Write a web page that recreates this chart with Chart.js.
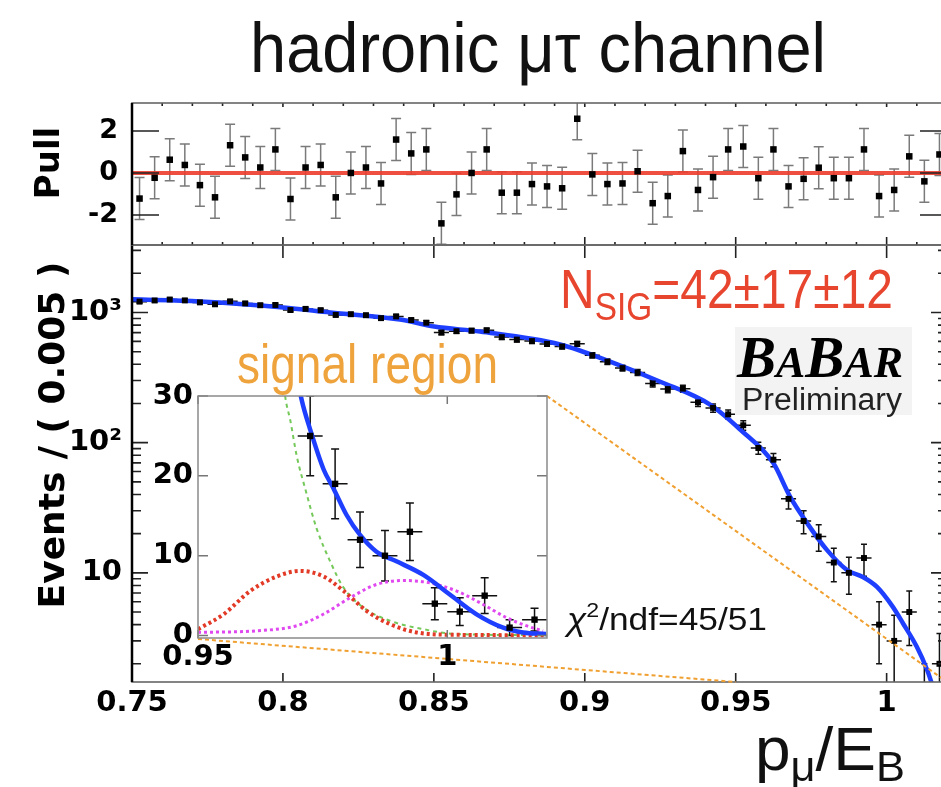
<!DOCTYPE html>
<html lang="en">
<head>
<meta charset="utf-8">
<title>hadronic μτ channel</title>
<script src="https://cdn.jsdelivr.net/npm/chart.js@4.4.1/dist/chart.umd.min.js"></script>
<style>
  html, body { margin: 0; padding: 0; background: #fff; overflow: hidden; }
  #wrap { position: relative; width: 941px; height: 787px; overflow: hidden; background: #fff; }
  #wrap canvas { position: absolute; }
  .txt { position: absolute; white-space: nowrap; line-height: 1; font-family: "Liberation Sans", Arial, sans-serif; transform-origin: 0 0; color: #111; }
  .rot { position: absolute; white-space: nowrap; line-height: 1; font-family: "DejaVu Sans", sans-serif; font-weight: bold; color: #000; transform: translate(-50%, -50%) rotate(-90deg); }
  .sub { position: relative; }
  #babarBox { position: absolute; left: 735px; top: 327px; width: 177px; height: 88px; background: #f3f3f3; }
  #babar { font-family: "Liberation Serif", "Times New Roman", serif; font-weight: bold; font-style: italic; color: #000; }
</style>
</head>
<body>
<div id="wrap">
  <canvas id="mainCanvas" width="960" height="787" style="left:0;top:0"></canvas>
  <canvas id="pullCanvas" width="960" height="260" style="left:0;top:0"></canvas>
  <canvas id="insetCanvas" width="420" height="310" style="left:140px;top:380px"></canvas>

  <div class="txt" id="title">hadronic μτ channel</div>
  <div class="rot" style="left:47px;top:163px;font-size:34px">Pull</div>
  <div class="rot" style="left:52px;top:435px;font-size:36px">Events / ( 0.005 )</div>
  <div class="txt" id="nsig" style="color:#e8452f">N<span class="sub" style="font-size:39px;top:12px">SIG</span>=42±17±12</div>
  <div class="txt" id="sigRegion" style="color:#efa33c">signal region</div>
  <div id="babarBox"></div>
  <div class="txt" id="babar"><span style="font-size:60px">B</span><span style="font-size:45px">A</span><span style="font-size:60px">B</span><span style="font-size:45px">AR</span></div>
  <div class="txt" id="prelim" style="color:#222">Preliminary</div>
  <div class="txt" id="chi2"><i>χ</i><span class="sub" style="font-size:21px;top:-13px">2</span>/ndf=45/51</div>
  <div class="txt" id="xTitle">p<span class="sub" style="font-size:42px;top:11px">μ</span>/E<span class="sub" style="font-size:42px;top:11px">B</span></div>
</div>

<script>
const binCenters = [
  0.7525, 0.7575, 0.7625, 0.7675, 0.7725, 0.7775, 0.7825, 0.7875, 0.7925, 0.7975,
  0.8025, 0.8075, 0.8125, 0.8175, 0.8225, 0.8275, 0.8325, 0.8375, 0.8425, 0.8475,
  0.8525, 0.8575, 0.8625, 0.8675, 0.8725, 0.8775, 0.8825, 0.8875, 0.8925, 0.8975,
  0.9025, 0.9075, 0.9125, 0.9175, 0.9225, 0.9275, 0.9325, 0.9375, 0.9425, 0.9475,
  0.9525, 0.9575, 0.9625, 0.9675, 0.9725, 0.9775, 0.9825, 0.9875, 0.9925, 0.9975,
  1.0025, 1.0075, 1.0125, 1.0175
];
const eventCounts = [
  1212, 1237, 1258, 1239, 1196, 1156, 1218, 1175, 1137, 1142,
  1044, 1066, 1042, 958, 970, 953, 905, 933, 875, 835,
  702, 718, 725, 730, 647, 619, 603, 574, 548, 575,
  469, 419, 374, 346, 285, 258, 260, 204, 185, 165,
  136, 91, 74, 37, 25, 19, 12, 10, 13, 4,
  3, 5, 1, 2
];
const pullValues = [
  -1.22, -0.23, 0.63, 0.38, -0.58, -1.16, 1.32, 0.74, 0.26, 1.12,
  -1.24, 0.26, 0.38, -1.16, 0.0, 0.26, -0.5, 1.59, 0.93, 1.12,
  -2.4, -1.02, 0.0, 1.12, -0.94, -0.94, -0.53, -0.64, -0.73, 2.58,
  -0.07, -0.53, -0.5, 0.08, -1.44, -1.1, 1.04, -0.81, -0.2, 1.12,
  1.26, -0.25, 1.12, -0.64, -0.28, 0.25, -0.25, -0.25, 1.12, -1.1,
  -0.81, 0.79, -0.4, 0.88
];

// Ajuste total (panel principal, escala log)
const fitX = [0.75, 0.7726, 0.8001, 0.8157, 0.8388, 0.8501, 0.8653, 0.8918, 0.9084, 0.925, 0.9415, 0.9515, 0.9624, 0.968, 0.9736, 0.9802, 0.9869, 0.9921, 0.9968, 1.002, 1.0054, 1.01, 1.0134, 1.016, 1.02];
const fitY = [1262, 1216, 1093, 1000, 883, 780, 714, 568, 420, 294, 196, 126, 70, 38.5, 24.2, 15.0, 10.5, 9.3, 7.8, 5.5, 4.1, 2.7, 1.8, 1.2, 0.7];

// Recuadro de la region de senal (escala lineal)
const insetFitX = [0.968, 0.9708, 0.9725, 0.9752, 0.9772, 0.9798, 0.9825, 0.9858, 0.9898, 0.9952, 1.0005, 1.0058, 1.0112, 1.0152, 1.0198];
const insetFitY = [38.5, 29.5, 25.8, 20.8, 18.4, 15.1, 12.6, 10.5, 9.3, 7.6, 5.15, 2.7, 1.0, 0.4, 0.2];
const bkgX = [0.9665, 0.9675, 0.9685, 0.9698, 0.9715, 0.9738, 0.9765, 0.9792, 0.9832, 0.9885, 0.9952, 1.0018, 1.02];
const bkgY = [36, 29.9, 27, 22.5, 18.4, 13.4, 9.3, 6.0, 3.5, 1.86, 0.8, 0.2, 0.05];
const sigX = [0.95, 0.9552, 0.9605, 0.9658, 0.9705, 0.9752, 0.9792, 0.9838, 0.9885, 0.9938, 1.0018, 1.02];
const sigY = [0.8, 2.7, 5.6, 7.4, 8.1, 7.4, 5.6, 3.1, 1.44, 0.4, 0.1, 0.05];
const peakX = [0.95, 0.9618, 0.9698, 0.9752, 0.9805, 0.9858, 0.9912, 0.9965, 1.0018, 1.0072, 1.0118, 1.0158, 1.0192];
const peakY = [0.4, 0.6, 1.24, 2.7, 4.74, 6.4, 6.9, 6.6, 5.6, 3.9, 2.27, 1.24, 0.6];

// Etiquetas de ejes
const xTickValues = [0.75, 0.8, 0.85, 0.9, 0.95, 1.0];
const xTickLabels = ["0.75", "0.8", "0.85", "0.9", "0.95", "1"];
const yTickValues = [10, 100, 1000];
const yTickLabels = ["10", "10²", "10³"];
const pullTickValues = [-2, 0, 2];
const pullTickLabels = ["-2", "0", "2"];
const insetXTickValues = [0.95, 1.0];
const insetXTickLabels = ["0.95", "1"];
const insetYTickValues = [0, 10, 20, 30];
const insetYTickLabels = ["0", "10", "20", "30"];

const blue = "#1e3fff";
const tickFont = { family: "DejaVu Sans", weight: "bold", size: 29 };

const toPoints = (xs, ys) => xs.map((x, i) => ({ x, y: ys[i] }));
const labelFor = (values, labels) => (value) => {
  const i = values.findIndex((v) => Math.abs(v - value) < 1e-9);
  return i >= 0 ? labels[i] : "";
};
const fixSize = (prop, size) => (scale) => {
  scale[prop] = size;
  scale.paddingTop = scale.paddingBottom = scale.paddingLeft = scale.paddingRight = 0;
};
const setTicks = (values) => (scale) => {
  scale.ticks = values.map((value) => ({ value }));
};

const eventErrors = eventCounts.map((n) => Math.sqrt(n));
const pullErrors = pullValues.map(() => 1);

// Barras de error (vertical con topes y horizontal de anchura de bin)
Chart.register({
  id: "errorBars",
  beforeDatasetsDraw(chart) {
    const { ctx, chartArea: a } = chart;
    const xs = chart.scales.x;
    const ys = chart.scales.y;
    ctx.save();
    ctx.beginPath();
    ctx.rect(a.left, a.top, a.right - a.left, a.bottom - a.top);
    ctx.clip();
    chart.data.datasets.forEach((ds) => {
      if (!ds.yErr) return;
      ctx.strokeStyle = ds.barColor;
      ctx.lineWidth = ds.barWidth;
      ctx.beginPath();
      ds.data.forEach((p, j) => {
        let low = p.y - ds.yErr[j];
        if (ys.type === "logarithmic") low = Math.max(low, ys.min / 10);
        const px = xs.getPixelForValue(p.x);
        const py = ys.getPixelForValue(p.y);
        const lo = ys.getPixelForValue(low);
        const hi = ys.getPixelForValue(p.y + ds.yErr[j]);
        ctx.moveTo(px, lo);
        ctx.lineTo(px, hi);
        if (ds.cap) {
          ctx.moveTo(px - ds.cap, lo); ctx.lineTo(px + ds.cap, lo);
          ctx.moveTo(px - ds.cap, hi); ctx.lineTo(px + ds.cap, hi);
        }
        if (ds.xHalf) {
          ctx.moveTo(xs.getPixelForValue(p.x - ds.xHalf), py);
          ctx.lineTo(xs.getPixelForValue(p.x + ds.xHalf), py);
        }
      });
      ctx.stroke();
    });
    ctx.restore();
  }
});

// Marco estilo ROOT: ticks hacia dentro en los cuatro lados
const rootFrame = (cfg) => ({
  id: "rootFrame",
  beforeDraw(chart) {
    if (!cfg.fill) return;
    const { ctx, chartArea: a } = chart;
    ctx.save();
    ctx.fillStyle = cfg.fill;
    ctx.fillRect(a.left, a.top, a.right - a.left, a.bottom - a.top);
    ctx.restore();
  },
  afterDraw(chart) {
    const { ctx, chartArea: a } = chart;
    const xs = chart.scales.x;
    const ys = chart.scales.y;
    ctx.save();
    ctx.strokeStyle = cfg.tickColor;
    ctx.lineWidth = cfg.tickWidth;
    ctx.beginPath();
    cfg.xTicks.forEach(([v, top, bottom]) => {
      const px = xs.getPixelForValue(v);
      if (px < a.left - 1 || px > a.right + 1) return;
      if (top) { ctx.moveTo(px, a.top); ctx.lineTo(px, a.top + top); }
      if (bottom) { ctx.moveTo(px, a.bottom); ctx.lineTo(px, a.bottom - bottom); }
    });
    cfg.yTicks.forEach(([v, len]) => {
      const py = ys.getPixelForValue(v);
      if (py < a.top - 1 || py > a.bottom + 1) return;
      ctx.moveTo(a.left, py); ctx.lineTo(a.left + len, py);
      ctx.moveTo(a.right, py); ctx.lineTo(a.right - len, py);
    });
    ctx.stroke();
    ctx.strokeStyle = cfg.frameColor;
    ctx.lineWidth = cfg.frameWidth;
    ctx.strokeRect(a.left, a.top, a.right - a.left, a.bottom - a.top);
    if (cfg.axisWidth) {
      ctx.strokeStyle = "#000";
      ctx.lineWidth = cfg.axisWidth;
      ctx.beginPath();
      ctx.moveTo(a.left, a.top);
      ctx.lineTo(a.left, a.bottom);
      ctx.stroke();
    }
    if (cfg.extra) cfg.extra(chart);
    ctx.restore();
  }
});

// Ticks menores cada 0.01 en x, mayores cada 0.05
const xGrid = [];
for (let i = 0; i <= 27; i++) {
  const v = Math.round((0.75 + i * 0.01) * 100) / 100;
  xGrid.push({ v, major: xTickValues.some((t) => Math.abs(t - v) < 1e-9) });
}
const logTicks = [];
[1, 10, 100, 1000].forEach((d) => {
  for (let m = 1; m <= 9; m++) {
    const v = d * m;
    if (v >= 1.45 && v <= 3300) logTicks.push(v);
  }
});

const baseOptions = {
  responsive: false,
  animation: false,
  devicePixelRatio: 1,
  events: [],
  plugins: { legend: { display: false }, tooltip: { enabled: false } }
};
const tickStyle = (values, labels, padding) => ({
  font: tickFont,
  color: "#000",
  padding,
  autoSkip: false,
  maxRotation: 0,
  minRotation: 0,
  callback: labelFor(values, labels)
});
const hiddenGrid = { display: false, drawTicks: false };

// Recuadro ampliado 0.95 - 1.02
const INSET_LEFT = 140;
const INSET_TOP = 380;
const insetChart = new Chart(document.getElementById("insetCanvas"), {
  type: "scatter",
  data: {
    datasets: [
      { data: toPoints(binCenters, eventCounts), yErr: eventErrors, xHalf: 0.0025, cap: 4,
        barColor: "#111", barWidth: 1.5, pointStyle: "rect", pointRadius: 4.5,
        backgroundColor: "#000", borderWidth: 0, clip: 0, order: 0 },
      { data: toPoints(insetFitX, insetFitY), showLine: true, borderColor: blue, borderWidth: 4.5,
        pointRadius: 0, cubicInterpolationMode: "monotone", clip: 0, order: 1 },
      { data: toPoints(sigX, sigY), showLine: true, borderColor: "#e23a26", borderWidth: 4,
        borderDash: [3, 3], pointRadius: 0, cubicInterpolationMode: "monotone", clip: 0, order: 2 },
      { data: toPoints(peakX, peakY), showLine: true, borderColor: "#e048f0", borderWidth: 3,
        borderDash: [3, 3], pointRadius: 0, cubicInterpolationMode: "monotone", clip: 0, order: 3 },
      { data: toPoints(bkgX, bkgY), showLine: true, borderColor: "#74c95a", borderWidth: 2,
        borderDash: [4, 4], pointRadius: 0, cubicInterpolationMode: "monotone", clip: 0, order: 4 }
    ]
  },
  options: {
    ...baseOptions,
    layout: { padding: { top: 16, right: 13, left: 0, bottom: 0 } },
    scales: {
      x: { type: "linear", min: 0.95, max: 1.02, grid: hiddenGrid, border: { display: false },
        afterBuildTicks: setTicks(insetXTickValues), afterFit: fixSize("height", 52),
        ticks: tickStyle(insetXTickValues, insetXTickLabels, 2) },
      y: { type: "linear", min: -0.3, max: 30, grid: hiddenGrid, border: { display: false },
        afterBuildTicks: setTicks(insetYTickValues), afterFit: fixSize("width", 58),
        ticks: tickStyle(insetYTickValues, insetYTickLabels, 5) }
    }
  },
  plugins: [rootFrame({
    fill: "#fff", tickColor: "#777", tickWidth: 1.5, frameColor: "#8a8a8a", frameWidth: 1.5,
    xTicks: insetXTickValues.map((v) => [v, 8, 8]),
    yTicks: insetYTickValues.map((v) => [v, 10])
  })]
});

// Lineas naranjas que unen el recuadro con la region de senal
const drawConnectors = (chart) => {
  const { ctx, chartArea: a, scales } = chart;
  const ia = insetChart.chartArea;
  ctx.save();
  ctx.strokeStyle = "#f0a030";
  ctx.lineWidth = 2;
  ctx.setLineDash([4, 3]);
  ctx.beginPath();
  ctx.moveTo(INSET_LEFT + ia.left, INSET_TOP + ia.bottom + 1);
  ctx.lineTo(scales.x.getPixelForValue(0.95), a.bottom);
  ctx.moveTo(INSET_LEFT + ia.right, INSET_TOP + ia.top);
  ctx.lineTo(scales.x.getPixelForValue(1.02), a.bottom);
  ctx.stroke();
  ctx.restore();
};

new Chart(document.getElementById("mainCanvas"), {
  type: "scatter",
  data: {
    datasets: [
      { data: toPoints(binCenters, eventCounts), yErr: eventErrors, xHalf: 0.0025, cap: 3,
        barColor: "#111", barWidth: 1.5, pointStyle: "rect", pointRadius: 4.2,
        backgroundColor: "#000", borderWidth: 0, clip: 0, order: 0 },
      { data: toPoints(fitX, fitY), showLine: true, borderColor: blue, borderWidth: 4.5,
        pointRadius: 0, cubicInterpolationMode: "monotone", clip: 0, order: 1 }
    ]
  },
  options: {
    ...baseOptions,
    layout: { padding: { top: 245, right: 13, left: 0, bottom: 0 } },
    scales: {
      x: { type: "linear", min: 0.75, max: 1.02, grid: hiddenGrid, border: { display: false },
        afterBuildTicks: setTicks(xTickValues), afterFit: fixSize("height", 105),
        ticks: tickStyle(xTickValues, xTickLabels, 4) },
      y: { type: "logarithmic", min: 1.45, max: 3300, grid: hiddenGrid, border: { display: false },
        afterBuildTicks: setTicks(logTicks), afterFit: fixSize("width", 132),
        ticks: tickStyle(yTickValues, yTickLabels, 10) }
    }
  },
  plugins: [rootFrame({
    tickColor: "#222", tickWidth: 1.6, frameColor: "#666", frameWidth: 1.6, axisWidth: 2.5,
    xTicks: xGrid.map((t) => (t.major ? [t.v, 13, 9] : [t.v, 0, 0])),
    yTicks: logTicks.map((v) => [v, yTickValues.includes(v) ? 16 : 9]),
    extra: drawConnectors
  })]
});

new Chart(document.getElementById("pullCanvas"), {
  type: "scatter",
  data: {
    datasets: [
      { data: toPoints(binCenters, pullValues), yErr: pullErrors, cap: 5,
        barColor: "#7a7a7a", barWidth: 1.5, pointStyle: "rect", pointRadius: 4.6,
        backgroundColor: "#000", borderWidth: 0, clip: 0, order: 0 },
      { data: [{ x: 0.75, y: 0 }, { x: 1.02, y: 0 }], showLine: true,
        borderColor: "rgba(236, 60, 44, 0.9)", borderWidth: 4, pointRadius: 0, clip: 0, order: 1 }
    ]
  },
  options: {
    ...baseOptions,
    layout: { padding: { top: 103, right: 13, left: 0, bottom: 15 } },
    scales: {
      x: { type: "linear", min: 0.75, max: 1.02, display: false },
      y: { type: "linear", min: -3.43, max: 3.33, grid: hiddenGrid, border: { display: false },
        afterBuildTicks: setTicks(pullTickValues), afterFit: fixSize("width", 132),
        ticks: { ...tickStyle(pullTickValues, pullTickLabels, 14), font: { ...tickFont, size: 27 } } }
    }
  },
  plugins: [rootFrame({
    tickColor: "#222", tickWidth: 1.6, frameColor: "#666", frameWidth: 1.6, axisWidth: 2.5,
    xTicks: xGrid.map((t) => (t.major ? [t.v, 4, 8] : [t.v, 3, 3])),
    yTicks: pullTickValues.map((v) => [v, 27])
  })]
});

// Textos libres colocados por linea base y ajustados a su anchura
const placeText = (id, left, baseline, size, width) => {
  const el = document.getElementById(id);
  el.style.fontSize = `${size}px`;
  el.style.left = `${left}px`;
  el.style.top = `${baseline - 0.846 * size}px`;
  if (width) {
    const natural = el.getBoundingClientRect().width;
    el.style.transform = `scaleX(${width / natural})`;
  }
};
placeText("title", 250, 72, 70, 576);
placeText("nsig", 560, 308, 56, 333);
placeText("sigRegion", 237, 383, 56, 261);
placeText("babar", 737, 378, 60, 166);
placeText("prelim", 742, 410, 31, 160);
placeText("chi2", 567, 630, 32, 200);
placeText("xTitle", 755, 770, 62, 150);
</script>
</body>
</html>
